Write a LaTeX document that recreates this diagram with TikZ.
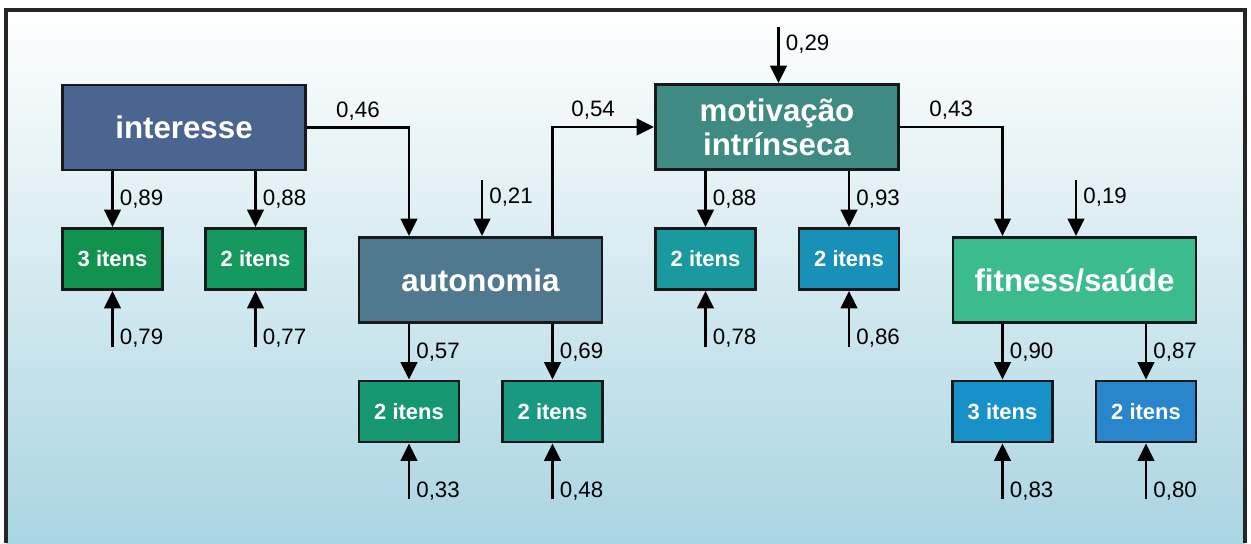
\documentclass[tikz,border=0pt]{standalone}
\usepackage{fontspec}
\setmainfont{Liberation Sans}
\usetikzlibrary{arrows.meta}

\definecolor{fundo}{HTML}{AAD5E2}
\definecolor{cInt}{HTML}{4B6591}
\definecolor{cAut}{HTML}{50798F}
\definecolor{cMot}{HTML}{3F8A82}
\definecolor{cFit}{HTML}{3BBB8E}
\definecolor{cIa}{HTML}{12924F}
\definecolor{cIb}{HTML}{16995E}
\definecolor{cAa}{HTML}{179672}
\definecolor{cAb}{HTML}{1A9982}
\definecolor{cMa}{HTML}{1A9AA0}
\definecolor{cMb}{HTML}{1990B8}
\definecolor{cFa}{HTML}{1890C8}
\definecolor{cFb}{HTML}{2A86CC}

\begin{document}
\begin{tikzpicture}[x=0.2cm,y=0.2cm,
    fator/.style={draw=black!90, line width=1.6pt, minimum width=4.86cm, minimum height=1.7cm,
      text=white, align=center, font=\bfseries\fontsize{17.8}{19.5}\selectfont},
    itens/.style={draw=black!90, line width=1.6pt, minimum width=2cm, minimum height=1.22cm,
      text=white, font=\bfseries\fontsize{12.5}{14}\selectfont},
    seta/.style={line width=1.4pt, -{Triangle[length=10pt,width=9.5pt]}},
    coef/.style={font=\fontsize{12.7}{14}\selectfont, inner sep=3.5pt}]
    \useasboundingbox (0,0) rectangle (125.1,54.3);
    % fundo e moldura
    \shade[top color=white, bottom color=fundo] (0.6,0) rectangle (124.5,53.3);
    \draw[line width=2pt, black!85] (0.6,0) -- (0.6,53.3) -- (124.5,53.3) -- (124.5,0);
    % fatores
    \node[fator, fill=cInt] (int) at (18.4,41.55) {interesse};
    \node[fator, fill=cAut] (aut) at (48.05,26.3) {autonomia};
    \node[fator, fill=cMot] (mot) at (77.7,41.6) {motivação\\intrínseca};
    \node[fator, fill=cFit] (fit) at (107.45,26.3) {fitness/saúde};
    % indicadores
    \node[itens, fill=cIa] (ia) at (11.25,28.4) {3 itens};
    \node[itens, fill=cIb] (ib) at (25.55,28.4) {2 itens};
    \node[itens, fill=cAa] (aa) at (40.9,13.15) {2 itens};
    \node[itens, fill=cAb] (ab) at (55.25,13.15) {2 itens};
    \node[itens, fill=cMa] (ma) at (70.55,28.4) {2 itens};
    \node[itens, fill=cMb] (mb) at (84.9,28.4) {2 itens};
    \node[itens, fill=cFa] (fa) at (100.25,13.15) {3 itens};
    \node[itens, fill=cFb] (fb) at (114.6,13.15) {2 itens};
    % caminhos estruturais
    \draw[seta] (int.east) -| node[coef, above, pos=0.25] {0,46} (aut.north -| aa);
    \draw[seta] (aut.north -| ab) |- node[coef, above, pos=0.7] {0,54} (mot.west);
    \draw[seta] (mot.east) -| node[coef, above, pos=0.25] {0,43} (fit.north -| fa);
    % cargas
    \foreach \f/\b/\v in {int/ia/{0,89},int/ib/{0,88},aut/aa/{0,57},aut/ab/{0,69},
                          mot/ma/{0,88},mot/mb/{0,93},fit/fa/{0,90},fit/fb/{0,87}}
    \draw[seta] (\f.south -| \b) -- node[coef, right] {\v} (\b);
    % erros dos indicadores
    \foreach \b/\v in {ia/{0,79},ib/{0,77},aa/{0,33},ab/{0,48},
                       ma/{0,78},mb/{0,86},fa/{0,83},fb/{0,80}} {
    \coordinate (e\b) at ([yshift=-1.12cm]\b.south);
    \draw[seta] (e\b) -- node[coef, right, pos=0.15] {\v} (\b);
    }
    % residuos dos fatores
    \foreach \f/\v in {aut/{0,21},mot/{0,29},fit/{0,19}} {
    \coordinate (d\f) at ([xshift=0.03cm,yshift=1.12cm]\f.north);
    \draw[seta] (d\f) -- node[coef, right, pos=0.3] {\v} (\f.north -| d\f);
    }
\end{tikzpicture}
\end{document}
